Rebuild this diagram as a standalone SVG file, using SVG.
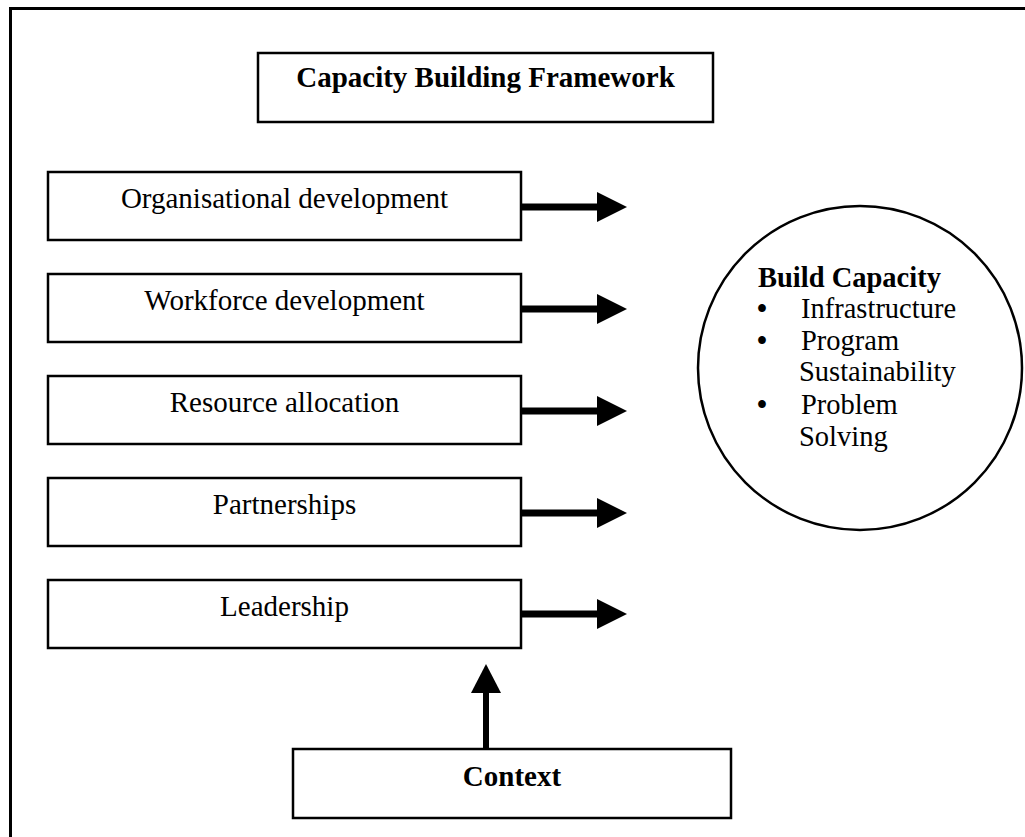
<svg xmlns="http://www.w3.org/2000/svg" width="1025" height="837" viewBox="0 0 1025 837">
<style>
.box{fill:#fff;stroke:#000;stroke-width:2.5}
.lbl{font-family:"Liberation Serif","Times New Roman",serif;font-size:29px;fill:#000;text-anchor:middle}
.b{font-weight:bold}
.ct{font-family:"Liberation Serif","Times New Roman",serif;font-size:28.5px;fill:#000}
.bul{font-weight:bold;text-anchor:middle}
.shaft{stroke:#000;stroke-width:7;fill:none}
.head{fill:#000}
</style>
<rect x="0" y="0" width="1025" height="837" fill="#fff"/>
<rect id="frame" x="10.5" y="8.5" width="1030" height="840" fill="none" stroke="#000" stroke-width="3"/>
<g id="title">
<rect class="box" x="258" y="53" width="455" height="69"/>
<text class="lbl b" x="485.5" y="87">Capacity Building Framework</text>
</g>
<g id="n1"><rect class="box" x="48" y="172" width="473" height="68"/><text class="lbl" x="284.5" y="208">Organisational development</text></g>
<g id="n2"><rect class="box" x="48" y="274" width="473" height="68"/><text class="lbl" x="284.5" y="310">Workforce development</text></g>
<g id="n3"><rect class="box" x="48" y="376" width="473" height="68"/><text class="lbl" x="284.5" y="412">Resource allocation</text></g>
<g id="n4"><rect class="box" x="48" y="478" width="473" height="68"/><text class="lbl" x="284.5" y="514">Partnerships</text></g>
<g id="n5"><rect class="box" x="48" y="580" width="473" height="68"/><text class="lbl" x="284.5" y="616">Leadership</text></g>
<g id="context"><rect class="box" x="293" y="749" width="438" height="69"/><text class="lbl b" x="512" y="786">Context</text></g>
<g id="capacity">
<circle cx="860" cy="368" r="162" fill="#fff" stroke="#000" stroke-width="2.5"/>
<text class="ct b" x="758" y="287">Build Capacity</text>
<text class="ct" y="318"><tspan class="bul" x="762">•</tspan><tspan x="801">Infrastructure</tspan></text>
<text class="ct" y="350"><tspan class="bul" x="762">•</tspan><tspan x="801">Program</tspan></text>
<text class="ct" x="799" y="381">Sustainability</text>
<text class="ct" y="414"><tspan class="bul" x="762">•</tspan><tspan x="801">Problem</tspan></text>
<text class="ct" x="799" y="446">Solving</text>
</g>
<g id="connectors">
<line class="shaft" x1="521" y1="207" x2="598" y2="207"/><polygon class="head" points="597,192 627,207 597,222"/>
<line class="shaft" x1="521" y1="309" x2="598" y2="309"/><polygon class="head" points="597,294 627,309 597,324"/>
<line class="shaft" x1="521" y1="411" x2="598" y2="411"/><polygon class="head" points="597,396 627,411 597,426"/>
<line class="shaft" x1="521" y1="513" x2="598" y2="513"/><polygon class="head" points="597,498 627,513 597,528"/>
<line class="shaft" x1="521" y1="614" x2="598" y2="614"/><polygon class="head" points="597,599 627,614 597,629"/>
<line x1="486" y1="749" x2="486" y2="692" stroke="#000" stroke-width="6"/><polygon class="head" points="471,693 486,664 501,693"/>
</g>
</svg>
